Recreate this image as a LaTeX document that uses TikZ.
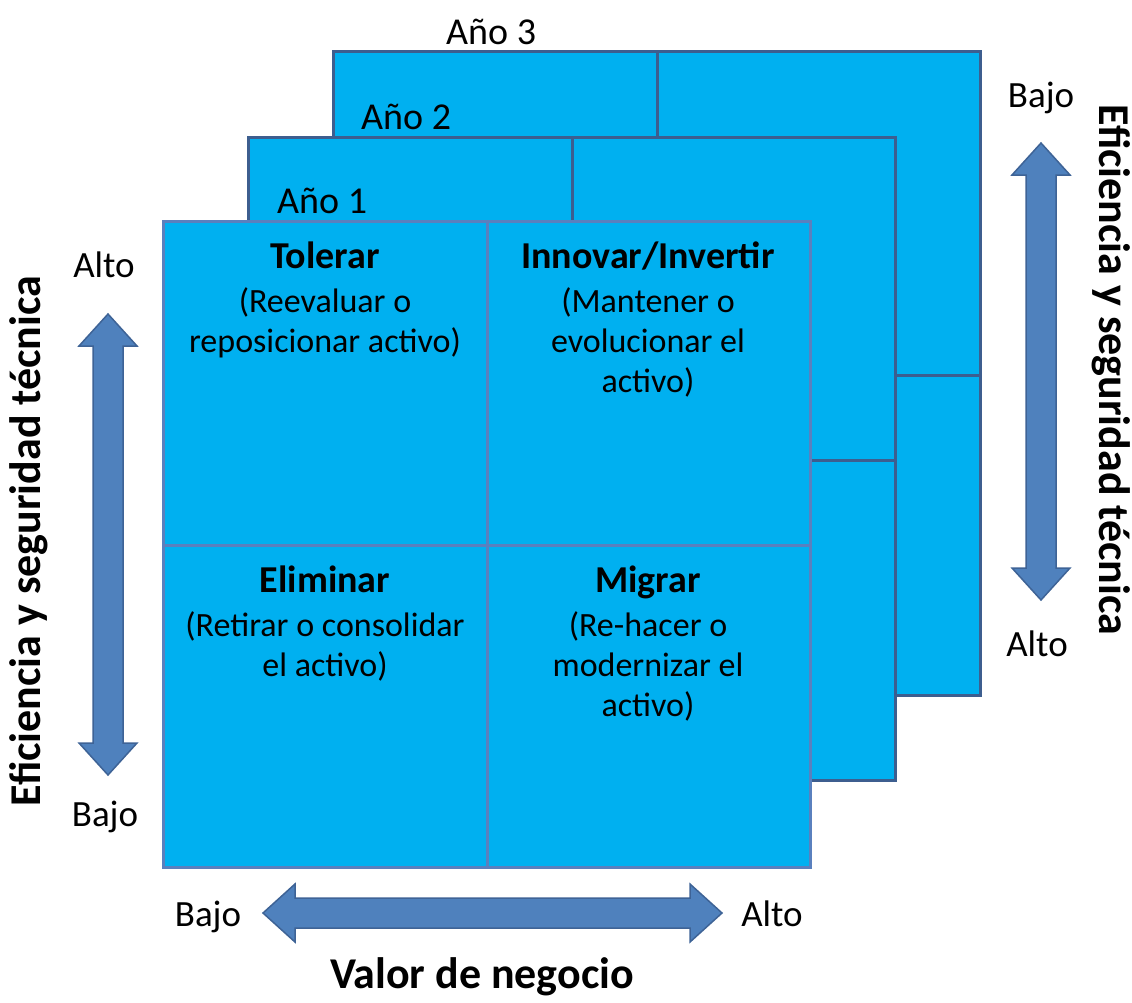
\documentclass[tikz,border=0pt]{standalone}
\usepackage{fontspec}
\setmainfont{Carlito}
\begin{document}
\begin{tikzpicture}[x=1pt,y=-1pt,
  cellfill/.style={fill=matcyan},
  backline/.style={draw=backedge,line width=3pt},
  frontline/.style={draw=frontedge,line width=3pt},
  axisarrow/.style={fill=arrowfill,draw=arrowedge,line width=1.5pt,line join=miter},
  axislabel/.style={font=\fontsize{37}{44}\selectfont,inner sep=0pt,anchor=base},
  yearlabel/.style={font=\fontsize{38}{44}\selectfont,inner sep=0pt,anchor=base west},
  axistitle/.style={font=\fontsize{44}{52}\selectfont\bfseries,inner sep=0pt},
  celltext/.style={align=center,inner sep=0pt,anchor=north,
    font=\fontsize{34}{40}\selectfont},
  celltitle/.style={}
]
\definecolor{matcyan}{HTML}{00B0F0}
\definecolor{backedge}{HTML}{3D5E8F}
\definecolor{frontedge}{HTML}{5A80BE}
\definecolor{arrowfill}{HTML}{4F81BD}
\definecolor{arrowedge}{HTML}{3E6396}
\newcommand{\qtitle}[1]{\rule{0pt}{30pt}{\fontsize{38}{40}\selectfont\bfseries #1}}

\useasboundingbox (0,0) rectangle (1132,1002);

% year 3 matrix (back)
\fill[cellfill] (333,51) rectangle (980,695);
\draw[backline] (333,51) rectangle (980,695);
\draw[backline] (657,51) -- (657,695);
\draw[backline] (333,375) -- (980,375);

% year 2 matrix (middle)
\fill[cellfill] (248,137) rectangle (895,780);
\draw[backline] (248,137) rectangle (895,780);
\draw[backline] (572,137) -- (572,780);
\draw[backline] (248,460) -- (895,460);

% year 1 matrix (front)
\fill[cellfill] (163,221) rectangle (810,867);
\draw[frontline] (163,221) rectangle (810,867);
\draw[frontline] (487,221) -- (487,867);
\draw[frontline] (163,545) -- (810,545);

% year labels
\node[yearlabel] (y3) at (446,44) {Año 3};
\node[yearlabel] (y2) at (361,129) {Año 2};
\node[yearlabel] (y1) at (277,213) {Año 1};

% quadrant texts
\node[celltext] (tol) at (325,238) {\qtitle{Tolerar}\\[4pt](Reevaluar o\\reposicionar activo)};
\node[celltext] (inn) at (648,238) {\qtitle{Innovar/Invertir}\\[4pt](Mantener o\\evolucionar el\\activo)};
\node[celltext] (eli) at (325,562) {\qtitle{Eliminar}\\[4pt](Retirar o consolidar\\el activo)};
\node[celltext] (mig) at (648,562) {\qtitle{Migrar}\\[4pt](Re-hacer o\\modernizar el\\activo)};

% vertical axis arrow, left
\draw[axisarrow] (108,314) -- (137,346) -- (123,346) -- (123,743) -- (137,743)
  -- (108,775) -- (79,743) -- (93,743) -- (93,346) -- (79,346) -- cycle;
% vertical axis arrow, right
\draw[axisarrow] (1041,143) -- (1070,175) -- (1056,175) -- (1056,568) -- (1070,568)
  -- (1041,600) -- (1012,568) -- (1026,568) -- (1026,175) -- (1012,175) -- cycle;
% horizontal axis arrow
\draw[axisarrow] (263,913) -- (295,884) -- (295,898) -- (690,898) -- (690,884)
  -- (722,913) -- (690,942) -- (690,928) -- (295,928) -- (295,942) -- cycle;

% axis labels
\node[axislabel] (lalto) at (104,277) {Alto};
\node[axislabel] (lbajo) at (105,826) {Bajo};
\node[axislabel] (rbajo) at (1041,107) {Bajo};
\node[axislabel] (ralto) at (1037,656) {Alto};
\node[axislabel] (bbajo) at (208,926) {Bajo};
\node[axislabel] (balto) at (772,926) {Alto};

% axis titles
\node[axistitle,rotate=90] (ltitle) at (29,541) {Eficiencia y seguridad técnica};
\node[axistitle,rotate=-90] (rtitle) at (1111,370) {Eficiencia y seguridad técnica};
\node[axistitle,anchor=base] (btitle) at (482,988) {Valor de negocio};
\end{tikzpicture}
\end{document}
